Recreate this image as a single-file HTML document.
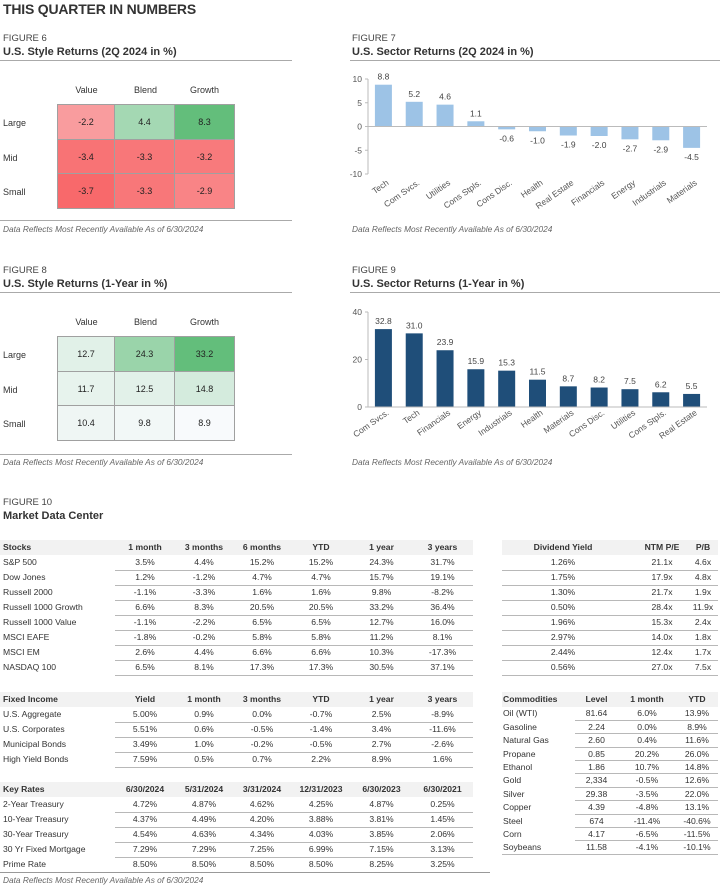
<!DOCTYPE html>
<html><head><meta charset="utf-8">
<style>
*{margin:0;padding:0;box-sizing:border-box}
body{width:720px;height:887px;position:relative;background:#fff;font-family:"Liberation Sans",sans-serif;color:#333;overflow:hidden}
.abs{position:absolute}
.h1{font-weight:bold;font-size:14px;color:#333;letter-spacing:-0.2px}
.fig{font-size:9.5px;color:#444}
.ttl{font-weight:bold;font-size:11px;color:#333}
.rule{height:1px;background:#aaa}
.note{font-style:italic;font-size:8.3px;color:#666}
.hm{border-collapse:collapse}
.hm td{border:1px solid #a0a0a0;text-align:center;font-size:9px;color:#222}
.lbl{font-size:9px;color:#333}
table.dt{position:absolute;border-collapse:collapse;table-layout:fixed;font-size:8.6px;color:#333}
table.dt td{height:15px;padding:0;text-align:center;white-space:nowrap;vertical-align:middle;line-height:1}
table.dt tr.hd td{background:#f2f2f2;font-weight:bold;color:#333}
table.dt td.l{text-align:left;padding-left:3px}
table.dt tr.r td.c{border-bottom:1px solid #b8b8b8}
table.cm td{height:13.4px}
table.cm tr.hd td{height:15px}
</style></head><body>
<div class="abs h1" style="left:3px;top:1px">THIS QUARTER IN NUMBERS</div>

<!-- Figure 6 -->
<div class="abs fig" style="left:3px;top:33px">FIGURE 6</div>
<div class="abs ttl" style="left:3px;top:46px">U.S. Style Returns (2Q 2024 in %)</div>
<div class="abs rule" style="left:0;top:60px;width:292px"></div>
<div class="abs" id="hm6" style="left:0;top:80px;width:292px;height:135px"></div>
<div class="abs rule" style="left:0;top:220px;width:292px"></div>
<div class="abs note" style="left:3px;top:224px">Data Reflects Most Recently Available As of 6/30/2024</div>

<!-- Figure 7 -->
<div class="abs fig" style="left:352px;top:33px">FIGURE 7</div>
<div class="abs ttl" style="left:352px;top:46px">U.S. Sector Returns (2Q 2024 in %)</div>
<div class="abs rule" style="left:350px;top:60px;width:370px"></div>
<svg class="abs" id="ch7" style="left:340px;top:60px" width="380" height="165"></svg>
<div class="abs note" style="left:352px;top:224px">Data Reflects Most Recently Available As of 6/30/2024</div>

<!-- Figure 8 -->
<div class="abs fig" style="left:3px;top:265px">FIGURE 8</div>
<div class="abs ttl" style="left:3px;top:278px">U.S. Style Returns (1-Year in %)</div>
<div class="abs rule" style="left:0;top:292px;width:292px"></div>
<div class="abs" id="hm8" style="left:0;top:312px;width:292px;height:135px"></div>
<div class="abs rule" style="left:0;top:454px;width:292px"></div>
<div class="abs note" style="left:3px;top:457px">Data Reflects Most Recently Available As of 6/30/2024</div>

<!-- Figure 9 -->
<div class="abs fig" style="left:352px;top:265px">FIGURE 9</div>
<div class="abs ttl" style="left:352px;top:278px">U.S. Sector Returns (1-Year in %)</div>
<div class="abs rule" style="left:350px;top:292px;width:370px"></div>
<svg class="abs" id="ch9" style="left:340px;top:292px" width="380" height="165"></svg>
<div class="abs note" style="left:352px;top:457px">Data Reflects Most Recently Available As of 6/30/2024</div>

<!-- Figure 10 -->
<div class="abs fig" style="left:3px;top:497px">FIGURE 10</div>
<div class="abs ttl" style="left:3px;top:510px">Market Data Center</div>

<table class="dt" style="left:0;top:540px;width:473px">
<colgroup><col style="width:115px"><col style="width:60px"><col style="width:58px"><col style="width:58px"><col style="width:60px"><col style="width:61px"><col style="width:61px"></colgroup>
<tr class="hd"><td class="l">Stocks</td><td>1 month</td><td>3 months</td><td>6 months</td><td>YTD</td><td>1 year</td><td>3 years</td></tr>
<tr class="r"><td class="l">S&amp;P 500</td><td class="c">3.5%</td><td class="c">4.4%</td><td class="c">15.2%</td><td class="c">15.2%</td><td class="c">24.3%</td><td class="c">31.7%</td></tr>
<tr class="r"><td class="l">Dow Jones</td><td class="c">1.2%</td><td class="c">-1.2%</td><td class="c">4.7%</td><td class="c">4.7%</td><td class="c">15.7%</td><td class="c">19.1%</td></tr>
<tr class="r"><td class="l">Russell 2000</td><td class="c">-1.1%</td><td class="c">-3.3%</td><td class="c">1.6%</td><td class="c">1.6%</td><td class="c">9.8%</td><td class="c">-8.2%</td></tr>
<tr class="r"><td class="l">Russell 1000 Growth</td><td class="c">6.6%</td><td class="c">8.3%</td><td class="c">20.5%</td><td class="c">20.5%</td><td class="c">33.2%</td><td class="c">36.4%</td></tr>
<tr class="r"><td class="l">Russell 1000 Value</td><td class="c">-1.1%</td><td class="c">-2.2%</td><td class="c">6.5%</td><td class="c">6.5%</td><td class="c">12.7%</td><td class="c">16.0%</td></tr>
<tr class="r"><td class="l">MSCI EAFE</td><td class="c">-1.8%</td><td class="c">-0.2%</td><td class="c">5.8%</td><td class="c">5.8%</td><td class="c">11.2%</td><td class="c">8.1%</td></tr>
<tr class="r"><td class="l">MSCI EM</td><td class="c">2.6%</td><td class="c">4.4%</td><td class="c">6.6%</td><td class="c">6.6%</td><td class="c">10.3%</td><td class="c">-17.3%</td></tr>
<tr class="r"><td class="l">NASDAQ 100</td><td class="c">6.5%</td><td class="c">8.1%</td><td class="c">17.3%</td><td class="c">17.3%</td><td class="c">30.5%</td><td class="c">37.1%</td></tr>
</table>

<table class="dt" style="left:502px;top:540px;width:216px">
<colgroup><col style="width:122px"><col style="width:64px"><col style="width:30px"></colgroup>
<tr class="hd"><td>Dividend Yield</td><td style="padding-left:12px">NTM P/E</td><td>P/B</td></tr>
<tr class="r"><td class="c">1.26%</td><td class="c" style="padding-left:12px">21.1x</td><td class="c">4.6x</td></tr>
<tr class="r"><td class="c">1.75%</td><td class="c" style="padding-left:12px">17.9x</td><td class="c">4.8x</td></tr>
<tr class="r"><td class="c">1.30%</td><td class="c" style="padding-left:12px">21.7x</td><td class="c">1.9x</td></tr>
<tr class="r"><td class="c">0.50%</td><td class="c" style="padding-left:12px">28.4x</td><td class="c">11.9x</td></tr>
<tr class="r"><td class="c">1.96%</td><td class="c" style="padding-left:12px">15.3x</td><td class="c">2.4x</td></tr>
<tr class="r"><td class="c">2.97%</td><td class="c" style="padding-left:12px">14.0x</td><td class="c">1.8x</td></tr>
<tr class="r"><td class="c">2.44%</td><td class="c" style="padding-left:12px">12.4x</td><td class="c">1.7x</td></tr>
<tr class="r"><td class="c">0.56%</td><td class="c" style="padding-left:12px">27.0x</td><td class="c">7.5x</td></tr>
</table>

<table class="dt" style="left:0;top:692px;width:473px">
<colgroup><col style="width:115px"><col style="width:60px"><col style="width:58px"><col style="width:58px"><col style="width:60px"><col style="width:61px"><col style="width:61px"></colgroup>
<tr class="hd"><td class="l">Fixed Income</td><td>Yield</td><td>1 month</td><td>3 months</td><td>YTD</td><td>1 year</td><td>3 years</td></tr>
<tr class="r"><td class="l">U.S. Aggregate</td><td class="c">5.00%</td><td class="c">0.9%</td><td class="c">0.0%</td><td class="c">-0.7%</td><td class="c">2.5%</td><td class="c">-8.9%</td></tr>
<tr class="r"><td class="l">U.S. Corporates</td><td class="c">5.51%</td><td class="c">0.6%</td><td class="c">-0.5%</td><td class="c">-1.4%</td><td class="c">3.4%</td><td class="c">-11.6%</td></tr>
<tr class="r"><td class="l">Municipal Bonds</td><td class="c">3.49%</td><td class="c">1.0%</td><td class="c">-0.2%</td><td class="c">-0.5%</td><td class="c">2.7%</td><td class="c">-2.6%</td></tr>
<tr class="r"><td class="l">High Yield Bonds</td><td class="c">7.59%</td><td class="c">0.5%</td><td class="c">0.7%</td><td class="c">2.2%</td><td class="c">8.9%</td><td class="c">1.6%</td></tr>
</table>

<table class="dt" style="left:0;top:782px;width:473px">
<colgroup><col style="width:115px"><col style="width:60px"><col style="width:58px"><col style="width:58px"><col style="width:60px"><col style="width:61px"><col style="width:61px"></colgroup>
<tr class="hd"><td class="l">Key Rates</td><td>6/30/2024</td><td>5/31/2024</td><td>3/31/2024</td><td>12/31/2023</td><td>6/30/2023</td><td>6/30/2021</td></tr>
<tr class="r"><td class="l">2-Year Treasury</td><td class="c">4.72%</td><td class="c">4.87%</td><td class="c">4.62%</td><td class="c">4.25%</td><td class="c">4.87%</td><td class="c">0.25%</td></tr>
<tr class="r"><td class="l">10-Year Treasury</td><td class="c">4.37%</td><td class="c">4.49%</td><td class="c">4.20%</td><td class="c">3.88%</td><td class="c">3.81%</td><td class="c">1.45%</td></tr>
<tr class="r"><td class="l">30-Year Treasury</td><td class="c">4.54%</td><td class="c">4.63%</td><td class="c">4.34%</td><td class="c">4.03%</td><td class="c">3.85%</td><td class="c">2.06%</td></tr>
<tr class="r"><td class="l">30 Yr Fixed Mortgage</td><td class="c">7.29%</td><td class="c">7.29%</td><td class="c">7.25%</td><td class="c">6.99%</td><td class="c">7.15%</td><td class="c">3.13%</td></tr>
<tr><td class="l">Prime Rate</td><td>8.50%</td><td>8.50%</td><td>8.50%</td><td>8.50%</td><td>8.25%</td><td>3.25%</td></tr>
</table>

<table class="dt cm" style="left:502px;top:692px;width:216px">
<colgroup><col style="width:73px"><col style="width:43px"><col style="width:58px"><col style="width:42px"></colgroup>
<tr class="hd"><td class="l" style="padding-left:1px">Commodities</td><td>Level</td><td>1 month</td><td>YTD</td></tr>
<tr class="r"><td class="l" style="padding-left:1px">Oil (WTI)</td><td class="c">81.64</td><td class="c">6.0%</td><td class="c">13.9%</td></tr>
<tr class="r"><td class="l" style="padding-left:1px">Gasoline</td><td class="c">2.24</td><td class="c">0.0%</td><td class="c">8.9%</td></tr>
<tr class="r"><td class="l" style="padding-left:1px">Natural Gas</td><td class="c">2.60</td><td class="c">0.4%</td><td class="c">11.6%</td></tr>
<tr class="r"><td class="l" style="padding-left:1px">Propane</td><td class="c">0.85</td><td class="c">20.2%</td><td class="c">26.0%</td></tr>
<tr class="r"><td class="l" style="padding-left:1px">Ethanol</td><td class="c">1.86</td><td class="c">10.7%</td><td class="c">14.8%</td></tr>
<tr class="r"><td class="l" style="padding-left:1px">Gold</td><td class="c">2,334</td><td class="c">-0.5%</td><td class="c">12.6%</td></tr>
<tr class="r"><td class="l" style="padding-left:1px">Silver</td><td class="c">29.38</td><td class="c">-3.5%</td><td class="c">22.0%</td></tr>
<tr class="r"><td class="l" style="padding-left:1px">Copper</td><td class="c">4.39</td><td class="c">-4.8%</td><td class="c">13.1%</td></tr>
<tr class="r"><td class="l" style="padding-left:1px">Steel</td><td class="c">674</td><td class="c">-11.4%</td><td class="c">-40.6%</td></tr>
<tr class="r"><td class="l" style="padding-left:1px">Corn</td><td class="c">4.17</td><td class="c">-6.5%</td><td class="c">-11.5%</td></tr>
<tr class="r"><td class="l" style="padding-left:1px;border-bottom:1px solid #b8b8b8">Soybeans</td><td class="c">11.58</td><td class="c">-4.1%</td><td class="c">-10.1%</td></tr>
</table>

<div class="abs rule" style="left:0;top:872px;width:490px;background:#999"></div>
<div class="abs note" style="left:3px;top:875px">Data Reflects Most Recently Available As of 6/30/2024</div>

<script>
// Heatmap data
const hmRows = ["Large", "Mid", "Small"];
const hmCols = ["Value", "Blend", "Growth"];
const hm6Values = [[-2.2, 4.4, 8.3], [-3.4, -3.3, -3.2], [-3.7, -3.3, -2.9]];
const hm8Values = [[12.7, 24.3, 33.2], [11.7, 12.5, 14.8], [10.4, 9.8, 8.9]];

// Sector chart data
const sec7Categories = ["Tech", "Com Svcs.", "Utilities", "Cons Stpls.", "Cons Disc.", "Health", "Real Estate", "Financials", "Energy", "Industrials", "Materials"];
const sec7Values = [8.8, 5.2, 4.6, 1.1, -0.6, -1.0, -1.9, -2.0, -2.7, -2.9, -4.5];
const sec7Ticks = [10, 5, 0, -5, -10];
const sec9Categories = ["Com Svcs.", "Tech", "Financials", "Energy", "Industrials", "Health", "Materials", "Cons Disc.", "Utilities", "Cons Stpls.", "Real Estate"];
const sec9Values = [32.8, 31.0, 23.9, 15.9, 15.3, 11.5, 8.7, 8.2, 7.5, 6.2, 5.5];
const sec9Ticks = [40, 20, 0];

function mix(a, b, t) {
  t = Math.max(0, Math.min(1, t));
  const r = a.map((x, i) => Math.round(x + (b[i] - x) * t));
  return "rgb(" + r.join(",") + ")";
}
const WHITE = [252, 252, 255], RED = [248, 105, 107], GREEN = [99, 190, 123];

function drawHeatmap(id, vals, baseFn) {
  const host = document.getElementById(id);
  const flat = vals.flat();
  const mn = Math.min(...flat), mx = Math.max(...flat);
  hmCols.forEach((c, j) => {
    const d = document.createElement("div");
    d.className = "abs lbl";
    
    
    d.style.left = (57 + j * 59) + "px"; d.style.width = "59px"; d.style.textAlign = "center"; d.style.top = "5px";
    d.textContent = c;
    host.appendChild(d);
  });
  const t = document.createElement("table");
  t.className = "hm abs";
  
  
  t.style.left = "57px"; t.style.top = "24px";
  vals.forEach((row, i) => {
    const lab = document.createElement("div");
    lab.className = "abs lbl";
    
    
    lab.style.left = "3px"; lab.style.top = (24 + i * 34.7 + 14) + "px";
    lab.textContent = hmRows[i];
    host.appendChild(lab);
    const tr = document.createElement("tr");
    row.forEach((v, j) => {
      const td = document.createElement("td");
      
      
      td.style.width = (j === 0 ? 57 : 60) + "px"; td.style.height = "34.7px";
      td.style.background = baseFn(v, mn, mx);
      td.textContent = v.toFixed(1);
      tr.appendChild(td);
    });
    t.appendChild(tr);
  });
  host.appendChild(t);
}
drawHeatmap("hm6", hm6Values, (v, mn, mx) => v < 0 ? mix(WHITE, RED, 0.15 + 0.85 * v / mn) : mix(WHITE, GREEN, 0.1 + 0.9 * v / mx));
drawHeatmap("hm8", hm8Values, (v, mn, mx) => mix([248, 250, 252], GREEN, (v - mn) / (mx - mn)));

const NS = "http://www.w3.org/2000/svg";
function el(svg, tag, attrs) {
  const e = document.createElementNS(NS, tag);
  for (const k in attrs) e.setAttribute(k, attrs[k]);
  svg.appendChild(e);
  return e;
}
function drawBars(id, cats, vals, ticks, yMax, yMin, yTopPx, yBotPx, color, labelY) {
  const svg = document.getElementById(id);
  const x0 = 28, x1 = 367;
  const band = (x1 - x0) / cats.length;
  const y = v => yTopPx + (yMax - v) / (yMax - yMin) * (yBotPx - yTopPx);
  const xc = i => x0 + band * (i + 0.5);
  const axis = el(svg, "line", {x1: x0, x2: x0, y1: yTopPx, y2: yBotPx, stroke: "#bbb", "stroke-width": 1});
  
  
  ticks.forEach(tv => {
    const tk = el(svg, "line", {x1: x0 - 3, x2: x0, y1: y(tv), y2: y(tv), stroke: "#bbb"});
    
    
    const tl = el(svg, "text", {x: x0 - 6, y: y(tv) + 3, "text-anchor": "end", "font-size": "8.5", fill: "#555", "font-family": "Liberation Sans, sans-serif"});
    
    
    tl.textContent = tv;
  });
  cats.forEach((c, i) => {
    const v = vals[i];
    const bw = 17;
    const top = Math.min(y(v), y(0)), h = Math.abs(y(v) - y(0));
    const b = el(svg, "rect", {x: xc(i) - bw / 2, y: top, width: bw, height: Math.max(h, 0.5), fill: color});
    
    
    const vl = el(svg, "text", {x: xc(i), y: v >= 0 ? y(v) - 5 : y(v) + 12, "text-anchor": "middle", "font-size": "8.5", fill: "#444", "font-family": "Liberation Sans, sans-serif"});
    
    
    vl.textContent = v.toFixed(1);
    const cl = el(svg, "text", {x: xc(i) + 6, y: labelY, "text-anchor": "end", "font-size": "8.5", fill: "#555", "font-family": "Liberation Sans, sans-serif", transform: "rotate(-35 " + (xc(i) + 6) + " " + labelY + ")"});
    
    
    cl.textContent = c;
  });
  const base = el(svg, "line", {x1: x0, x2: x1, y1: y(0), y2: y(0), stroke: "#bbb", "stroke-width": 1});
  
  
}
drawBars("ch7", sec7Categories, sec7Values, sec7Ticks, 10, -10, 19, 114, "#9dc3e6", 124);
drawBars("ch9", sec9Categories, sec9Values, sec9Ticks, 40, 0, 20, 115, "#1f4e79", 122);
</script>
</body></html>
